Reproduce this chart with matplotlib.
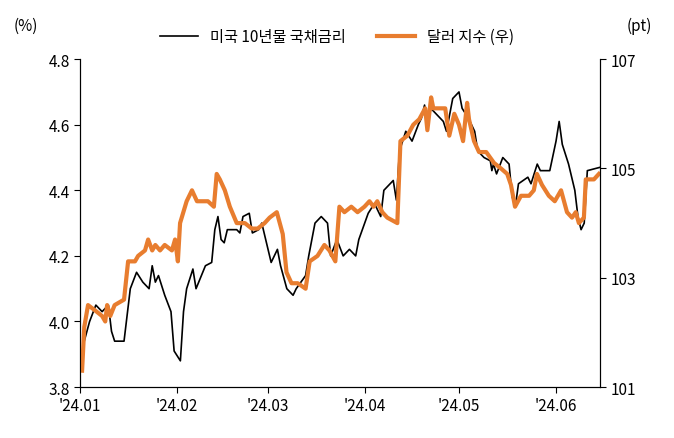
import matplotlib
matplotlib.use("Agg")
import matplotlib.pyplot as plt

plt.rcParams["font.family"] = ["Noto Sans CJK KR", "Noto Sans CJK JP", "Noto Sans CJK SC",
                               "Noto Sans CJK TC", "DejaVu Sans"]

# US 10y treasury yield (%), x = days since 2024-01-01
ust_days = [1, 3, 5, 7, 9, 10, 11, 14, 16, 18, 20, 22, 23, 24, 25, 27, 29, 30, 32, 33, 34, 36, 37,
            40, 42, 43, 44, 45, 46, 47, 50, 51, 52, 54, 55, 57, 58, 59, 61, 63, 64, 66, 68, 69, 72,
            73, 75, 77, 79, 80, 82, 84, 86, 88, 89, 92, 94, 96, 97, 99, 100, 101, 102, 104, 106,
            108, 109, 110, 111, 112, 115, 116, 117, 119, 121, 122, 124, 125, 126, 127, 129, 131,
            131.5, 132, 133, 135, 137, 138, 139, 140, 143, 144, 146, 147, 150, 152, 153, 154, 156,
            158, 159, 160, 161, 162, 166]
ust_vals = [3.93, 4.00, 4.05, 4.03, 4.05, 3.97, 3.94, 3.94, 4.10, 4.15, 4.12, 4.10, 4.17, 4.12,
            4.14, 4.08, 4.03, 3.91, 3.88, 4.03, 4.10, 4.16, 4.10, 4.17, 4.18, 4.28, 4.32, 4.25,
            4.24, 4.28, 4.28, 4.27, 4.32, 4.33, 4.27, 4.28, 4.30, 4.26, 4.18, 4.22, 4.17, 4.10,
            4.08, 4.10, 4.14, 4.20, 4.30, 4.32, 4.30, 4.20, 4.25, 4.20, 4.22, 4.20, 4.25, 4.33,
            4.36, 4.32, 4.40, 4.42, 4.43, 4.37, 4.52, 4.58, 4.55, 4.60, 4.62, 4.66, 4.60, 4.65,
            4.62, 4.61, 4.58, 4.68, 4.70, 4.65, 4.62, 4.60, 4.58, 4.52, 4.50, 4.49, 4.46, 4.48,
            4.45, 4.50, 4.48, 4.38, 4.35, 4.42, 4.44, 4.42, 4.48, 4.46, 4.46, 4.55, 4.61, 4.54,
            4.48, 4.40, 4.32, 4.28, 4.30, 4.46, 4.47]

# Dollar index (pt)
dxy_days = [0.6, 1.3, 2.5, 4.8, 7, 8, 8.6, 9.6, 11, 14, 15.3, 17.5, 18.5, 20.7, 21.7, 23, 24, 25.5,
            27, 29.3, 30.3, 31.2, 31.9, 34, 35.7, 37.3, 38.9, 40.8, 42.7, 43.6, 44.6, 46.2, 47.8,
            50, 52.6, 54.8, 56.7, 58.9, 60.5, 62.8, 64.7, 65.9, 67.5, 69.5, 72, 73.3, 75.8, 78,
            79.6, 81.5, 82.8, 84.4, 86.6, 88.6, 90.8, 92.4, 93.7, 94.9, 96.5, 98.1, 101.3, 102.3,
            104.5, 106.4, 108.3, 110.2, 110.9, 112.1, 112.8, 114.7, 116.6, 117.9, 119.5, 121,
            122.3, 123.6, 124.2, 125.8, 127.4, 129.7, 132.2, 134.4, 136.4, 137.6, 138.9, 140.8,
            143.4, 144.9, 145.9, 147.5, 149.7, 151.6, 153.6, 155.5, 157.1, 158.3, 159.3, 160.9,
            161.5, 164.1, 165.7]
dxy_vals = [101.3, 102.1, 102.5, 102.4, 102.3, 102.2, 102.5, 102.3, 102.5, 102.6, 103.3, 103.3,
            103.4, 103.5, 103.7, 103.5, 103.6, 103.5, 103.6, 103.5, 103.7, 103.3, 104.0, 104.4,
            104.6, 104.4, 104.4, 104.4, 104.3, 104.9, 104.8, 104.6, 104.3, 104.0, 104.0, 103.9,
            103.9, 104.0, 104.1, 104.2, 103.8, 103.1, 102.9, 102.9, 102.8, 103.3, 103.4, 103.6,
            103.5, 103.3, 104.3, 104.2, 104.3, 104.2, 104.3, 104.4, 104.3, 104.4, 104.2, 104.1,
            104.0, 105.5, 105.6, 105.8, 105.9, 106.1, 105.7, 106.3, 106.1, 106.1, 106.1, 105.6,
            106.0, 105.8, 105.5, 106.2, 105.9, 105.5, 105.3, 105.3, 105.1, 105.0, 104.9, 104.7,
            104.3, 104.5, 104.5, 104.6, 104.9, 104.7, 104.5, 104.4, 104.6, 104.2, 104.1, 104.2,
            104.0, 104.1, 104.8, 104.8, 104.9]

tick_days = [0, 31, 60, 91, 121, 152]
tick_labels = ["'24.01", "'24.02", "'24.03", "'24.04", "'24.05", "'24.06"]

fig = plt.figure(figsize=(6.74, 4.39), dpi=100)
ax = fig.add_axes([0.119, 0.116, 0.771, 0.747])
ax2 = ax.twinx()

l1, = ax.plot(ust_days, ust_vals, color="black", lw=1.2, label="미국 10년물 국채금리")
l2, = ax2.plot(dxy_days, dxy_vals, color="#e87d2f", lw=3, label="달러 지수 (우)")

ax.set_xlim(0, 166)
ax.set_ylim(3.8, 4.8)
ax.set_yticks([3.8, 4.0, 4.2, 4.4, 4.6, 4.8])
ax.set_yticklabels([f"{v:.1f}" for v in [3.8, 4.0, 4.2, 4.4, 4.6, 4.8]])
ax2.set_ylim(101, 107)
ax2.set_yticks([101, 103, 105, 107])
ax.set_xticks(tick_days)
ax.set_xticklabels(tick_labels)

for a in (ax, ax2):
    a.spines["top"].set_visible(False)
    a.tick_params(labelsize=11, length=4, direction="out")

fig.text(0.02, 0.93, "(%)", fontsize=11)
fig.text(0.93, 0.93, "(pt)", fontsize=11)
fig.legend(handles=[l1, l2], loc="upper center", bbox_to_anchor=(0.5, 0.965), ncol=2,
           frameon=False, fontsize=11, handlelength=2.5, columnspacing=2)

fig.savefig("out.png", dpi=100)
